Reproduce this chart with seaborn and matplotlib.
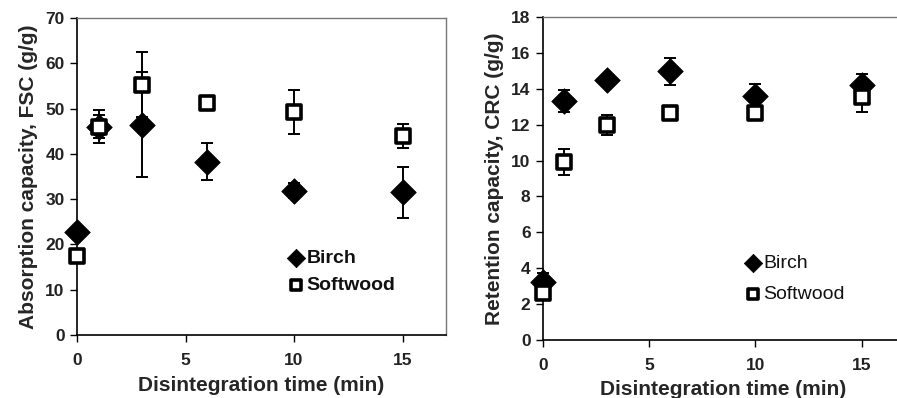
import matplotlib
matplotlib.use("Agg")
import matplotlib.pyplot as plt
import seaborn as sns
import pandas as pd

sns.set_theme(style="white")
plt.rcParams['font.family'] = ['Liberation Sans', 'DejaVu Sans']

time = [0, 1, 3, 6, 10, 15]

fsc_birch = [22.8, 46.0, 46.4, 38.3, 31.9, 31.5]
fsc_birch_err = [0.8, 3.7, 11.6, 4.1, 1.7, 5.7]
fsc_soft = [17.5, 46.0, 55.3, 51.2, 49.2, 44.0]
fsc_soft_err = [1.0, 2.5, 7.2, 1.0, 4.8, 2.6]

crc_birch = [3.25, 13.32, 14.5, 14.97, 13.58, 14.2]
crc_birch_err = [0.5, 0.6, 0.2, 0.75, 0.7, 0.65]
crc_soft = [2.63, 9.93, 11.97, 12.65, 12.65, 13.54]
crc_soft_err = [0.3, 0.74, 0.55, 0.15, 0.15, 0.85]

series_names = ["Birch", "Softwood"]
x_label = "Disintegration time (min)"
y_labels = ["Absorption capacity, FSC (g/g)", "Retention capacity, CRC (g/g)"]

fig = plt.figure(figsize=(8.97, 3.98), dpi=100)
W, H = 897, 398
ax1 = fig.add_axes([77 / W, 1 - 335 / H, (446 - 77) / W, (335 - 18) / H])
ax2 = fig.add_axes([543 / W, 1 - 340 / H, (904 - 543) / W, (340 - 17) / H])


def panel(ax, b, be, s, se, ylim, yticks, ylabel, leg_anchor, leg_bold, spacing, xpad):
    for vals, errs in ((b, be), (s, se)):
        _, caps, bars = ax.errorbar(time, vals, yerr=errs, fmt='none', ecolor='black',
                                    elinewidth=1.4, capsize=4.5, capthick=1.4, zorder=2)
        for c in caps:
            c.set_clip_on(False)
        for bb in bars:
            bb.set_clip_on(False)
    df_b = pd.DataFrame({"t": time, "v": b})
    df_s = pd.DataFrame({"t": time, "v": s})
    sns.scatterplot(data=df_b, x="t", y="v", marker="D", s=170, color="black",
                    edgecolor="black", linewidth=0.5, ax=ax, zorder=3,
                    label=series_names[0], clip_on=False)
    sns.scatterplot(data=df_s, x="t", y="v", marker="s", s=115, facecolor="white",
                    edgecolor="black", linewidth=2.6, ax=ax, zorder=4,
                    label=series_names[1], clip_on=False)
    ax.set_xlim(0, 17)
    ax.set_ylim(*ylim)
    ax.set_xticks([0, 5, 10, 15])
    ax.set_yticks(yticks)
    ax.set_xlabel(x_label, fontsize=15, fontweight='bold', labelpad=xpad)
    ax.set_ylabel(ylabel, fontsize=15, fontweight='bold', labelpad=5)
    ax.tick_params(axis='both', labelsize=12.5, direction='out', length=5,
                   width=1, color='black', left=True, bottom=True, pad=4)
    ax.tick_params(axis='x', pad=8)
    for lab in ax.get_xticklabels() + ax.get_yticklabels():
        lab.set_fontweight('bold')
        lab.set_color('#222222')
    for sp in ['left', 'bottom']:
        ax.spines[sp].set_color('black')
        ax.spines[sp].set_linewidth(1.2)
    for sp in ['top', 'right']:
        ax.spines[sp].set_color('#777777')
        ax.spines[sp].set_linewidth(1.0)
    leg = ax.legend(loc='center left', bbox_to_anchor=leg_anchor, frameon=False,
                    fontsize=14, handletextpad=-0.45, borderaxespad=0,
                    labelspacing=spacing, markerscale=0.72)
    for t in leg.get_texts():
        if leg_bold:
            t.set_fontweight('bold')
        t.set_color('#111111')


panel(ax1, fsc_birch, fsc_birch_err, fsc_soft, fsc_soft_err, (0, 70),
      range(0, 71, 10), y_labels[0], (0.52, 0.2), True, 0.5, 6)
panel(ax2, crc_birch, crc_birch_err, crc_soft, crc_soft_err, (0, 18),
      range(0, 19, 2), y_labels[1], (0.505, 0.19), False, 0.7, 5)

fig.savefig("out.png", dpi=100)
